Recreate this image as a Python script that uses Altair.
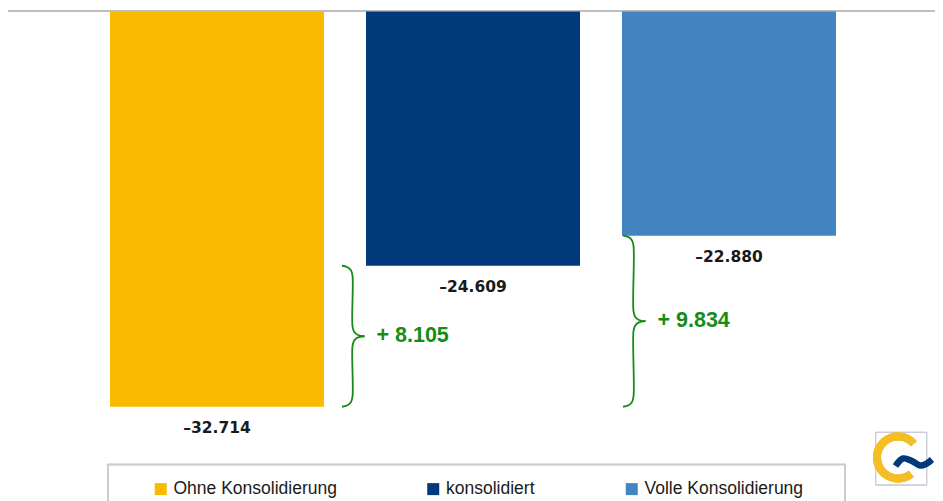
import altair as alt
import pandas as pd

# ---- data ----
categories = ["Ohne Konsolidierung", "konsolidiert", "Volle Konsolidierung"]
values = [-32.714, -24.609, -22.880]
value_labels = ["–32.714", "–24.609", "–22.880"]
diff_labels = ["+ 8.105", "+ 9.834"]
brace_upper = [-24.609, -22.880]
brace_lower = [-32.714, -32.714]
colors = ["#F9BA00", "#003A7A", "#4385C1"]

# ---- layout / style ----
W, H = 927, 493
Y_TOP, Y_BOT = -10, -35
Y_PX_TOP, Y_PX_BOT = 3.6, 438.5
GREEN = "#168C16"
k = (Y_TOP - Y_BOT) / (Y_PX_BOT - Y_PX_TOP)  # data units per pixel


def px_to_val(ypx):
    return Y_TOP - (ypx - Y_PX_TOP) * k


y_scale = alt.Scale(domain=[Y_BOT, Y_TOP], range=[Y_PX_BOT, Y_PX_TOP], nice=False, zero=False)
x_band = alt.Scale(type="band", domain=categories, range=[102, 828], paddingInner=0.164, paddingOuter=0)
px_scale = alt.Scale(domain=[0, W], range=[0, W], nice=False, zero=False)

bars_df = pd.DataFrame({"cat": categories, "val": values, "lab": value_labels,
                        "base": [Y_TOP] * len(values)})

top_rule = alt.Chart(bars_df).mark_rule(color="#b5b5b5", strokeWidth=1).encode(
    x=alt.value(0), x2=alt.value(W), y=alt.value(3))

bars = alt.Chart(bars_df).mark_bar().encode(
    x=alt.X("cat:N", scale=x_band, axis=None, sort=categories),
    y=alt.Y("val:Q", scale=y_scale, axis=None),
    y2="base:Q",
    color=alt.Color("cat:N", sort=categories,
                    scale=alt.Scale(domain=categories, range=colors),
                    legend=alt.Legend(title=None, orient="none", legendX=144, legendY=472,
                                      direction="horizontal", symbolType="square",
                                      symbolSize=144, symbolStrokeWidth=0,
                                      labelFont="Liberation Sans", labelFontSize=17.5,
                                      labelColor="#1a1a1a", labelLimit=300, labelOffset=4,
                                      columnPadding=87.5, padding=0)),
)

value_text = alt.Chart(bars_df).mark_text(
    font="DejaVu Sans", fontWeight="bold", fontSize=15.5, color="#1a1a1a",
    baseline="middle", dy=21).encode(
    x=alt.X("cat:N", scale=x_band, axis=None, sort=categories),
    y=alt.Y("val:Q", scale=y_scale, axis=None),
    text="lab:N")

# ---- braces (annotation shape built around the data spans) ----
brace_base_px = [334, 615]
VX, TX = 10.5, 22.5
rows = []
for b, (t, bv) in enumerate(zip(brace_upper, brace_lower)):
    h = (t - bv) / k
    half = [(0, 0), (5, 1.2), (VX - 1.6, 4.5), (VX, 10), (VX, h / 2 - 10),
            (VX + 1.6, h / 2 - 4.5), (VX + 5.5, h / 2 - 1.2), (TX, h / 2)]
    for side in (0, 1):
        for i, (dx, dy) in enumerate(half):
            yy = dy if side == 0 else h - dy
            rows.append({"seg": b * 2 + side, "i": i,
                         "bx": brace_base_px[b] + dx, "by": t - yy * k})
brace_df = pd.DataFrame(rows)

braces = alt.Chart(brace_df).mark_line(color=GREEN, strokeWidth=1.8,
                                       interpolate="catmull-rom").encode(
    x=alt.X("bx:Q", scale=px_scale, axis=None),
    y=alt.Y("by:Q", scale=y_scale, axis=None),
    detail="seg:N",
    order="i:Q")

diff_df = pd.DataFrame({
    "lab": diff_labels,
    "gx": [bp + TX + 12 for bp in brace_base_px],
    "gy": [(t + bv) / 2 for t, bv in zip(brace_upper, brace_lower)],
})
diff_text = alt.Chart(diff_df).mark_text(
    font="Liberation Sans", fontWeight="bold", fontSize=21.5, color=GREEN,
    align="left", baseline="middle").encode(
    x=alt.X("gx:Q", scale=px_scale, axis=None),
    y=alt.Y("gy:Q", scale=y_scale, axis=None),
    text="lab:N")

# ---- legend frame ----
legend_box = alt.Chart(bars_df).mark_rect(fillOpacity=0, stroke="#cccccc", strokeWidth=1.5).encode(
    x=alt.value(100), x2=alt.value(837), y=alt.value(456.5), y2=alt.value(510))

# ---- logo ----
logo_box = alt.Chart(bars_df).mark_rect(fillOpacity=0, stroke="#c8c8d8", strokeWidth=0.8).encode(
    x=alt.value(867.7), x2=alt.value(918.7), y=alt.value(424.3), y2=alt.value(477))
logo_c = alt.Chart(bars_df).mark_arc(theta=2.46, theta2=7.14, radius=25, radius2=17,
                                     color="#F6BE25").encode(
    x=alt.value(890), y=alt.value(449.5))
wave_pts = [(887.5, 458), (895, 450.5), (904, 453), (912, 457.5), (918, 456), (924, 451.5)]
wave_df = pd.DataFrame({"i": list(range(len(wave_pts))),
                        "wx": [p[0] for p in wave_pts],
                        "wy": [px_to_val(p[1]) for p in wave_pts]})
logo_w = alt.Chart(wave_df).mark_line(color="#003A7A", strokeWidth=6.5, strokeCap="butt",
                                      interpolate="catmull-rom").encode(
    x=alt.X("wx:Q", scale=px_scale, axis=None),
    y=alt.Y("wy:Q", scale=y_scale, axis=None),
    order="i:Q")

chart = alt.layer(top_rule, bars, value_text, braces, diff_text, legend_box,
                  logo_box, logo_c, logo_w).resolve_scale(x="independent").properties(
    width=W, height=H, padding=0,
    autosize=alt.AutoSizeParams(type="none"),
).configure_view(stroke=None)

chart.save("out.html", embed_options={"renderer": "svg", "actions": False})
